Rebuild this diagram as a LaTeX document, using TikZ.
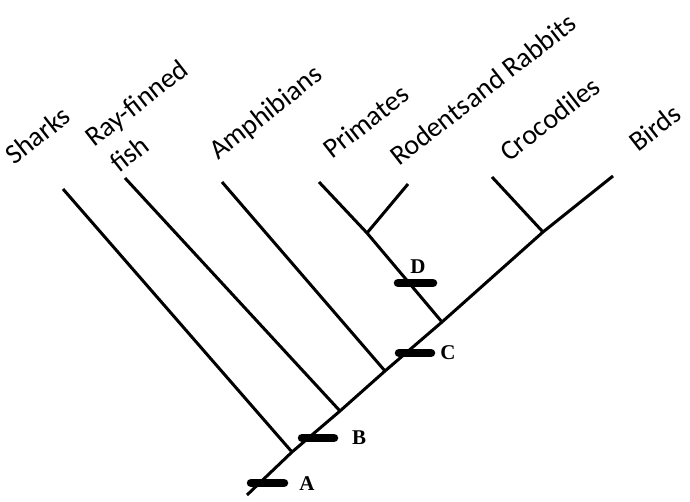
\documentclass[tikz,border=0pt]{standalone}
\usepackage{fontspec}
\setmainfont{Carlito}
\newfontfamily\traitfont{Liberation Serif}

\begin{document}
\begin{tikzpicture}[x=1pt, y=-1pt]
    \tikzstyle{taxon} = [rotate=38, anchor=base west, inner sep=0pt, font=\fontsize{28}{32}\selectfont]
    \tikzstyle{branch} = [line width=3pt]
    \tikzstyle{trait} = [line width=8.5pt, line cap=round]
    \tikzstyle{traitlabel} = [inner sep=0pt, font=\traitfont\bfseries\fontsize{21}{23}\selectfont]
    \useasboundingbox (0,0) rectangle (690,501);

    \node (sharks) [taxon] at (14,166) {Sharks};
    \node (rayfinned) [taxon] at (94,148) {Ray-finned};
    \node (fish) [taxon] at (119,174) {fish};
    \node (amphibians) [taxon] at (218,161) {Amphibians};
    \node (primates) [taxon] at (332,160) {Primates};
    \node (rodents) [taxon] at (399,167) {Rodents\kern1pt and Rabbits};
    \node (crocodiles) [taxon] at (509,163) {Crocodiles};
    \node (birds) [taxon] at (638,153) {Birds};

    \coordinate (root) at (247,495);
    \coordinate (jSharks) at (292,452);
    \coordinate (jFish) at (340,411);
    \coordinate (jAmph) at (385,371);
    \coordinate (jMammal) at (442,322);
    \coordinate (jPrimRod) at (367,233);
    \coordinate (jReptile) at (543,232);
    \coordinate (sharksTip) at (63,189);
    \coordinate (fishTip) at (125,178);
    \coordinate (amphTip) at (222,182);
    \coordinate (primTip) at (319,182);
    \coordinate (rodTip) at (408,184);
    \coordinate (crocTip) at (492,177);
    \coordinate (birdsTip) at (613,176);

    % main stem and side branches
    \draw [branch] (root) -- (jSharks) -- (jFish) -- (jAmph) -- (jMammal) -- (jReptile) -- (birdsTip);
    \draw [branch] (sharksTip) -- (jSharks);
    \draw [branch] (fishTip) -- (jFish);
    \draw [branch] (amphTip) -- (jAmph);
    \draw [branch] (primTip) -- (jPrimRod) -- (jMammal);
    \draw [branch] (rodTip) -- (jPrimRod);
    \draw [branch] (crocTip) -- (jReptile);

    % derived characters
    \coordinate (traitA) at (267.5,483);
    \coordinate (traitB) at (318,438);
    \coordinate (traitC) at (415,353);
    \coordinate (traitD) at (415.5,283);
    \draw [trait] ([xshift=-16.5]traitA) -- ([xshift=16.5]traitA);
    \draw [trait] ([xshift=-16]traitB) -- ([xshift=16]traitB);
    \draw [trait] ([xshift=-16]traitC) -- ([xshift=16]traitC);
    \draw [trait] ([xshift=-17.5]traitD) -- ([xshift=17.5]traitD);
    \node (labA) [traitlabel] at (307,484) {A};
    \node (labB) [traitlabel] at (359,438) {B};
    \node (labC) [traitlabel] at (448,353) {C};
    \node (labD) [traitlabel] at (418,267) {D};

\end{tikzpicture}
\end{document}
